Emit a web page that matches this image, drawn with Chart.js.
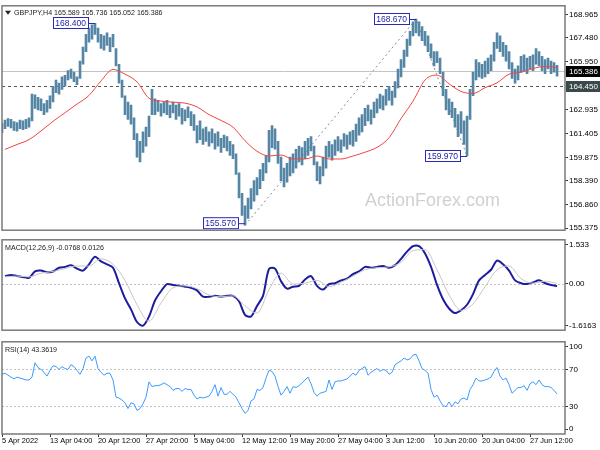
<!DOCTYPE html>
<html>
<head>
<meta charset="utf-8">
<script src="https://cdn.jsdelivr.net/npm/chart.js@4.4.0/dist/chart.umd.min.js"></script>
<style>
html, body { margin: 0; padding: 0; background: #fff; }
#painel { position: relative; width: 600px; height: 450px; overflow: hidden; background: #fff; }
canvas { position: absolute; left: 0; }
</style>
</head>
<body>
<div id="painel">
    <canvas id="graficoPreco" width="600" height="236" style="top:0px;width:600px;height:236px"></canvas>
    <canvas id="graficoMacd" width="600" height="102" style="top:234px;width:600px;height:102px"></canvas>
    <canvas id="graficoRsi" width="600" height="114" style="top:336px;width:600px;height:114px"></canvas>
</div>
<script>
"use strict";

/********************************************************************
 * Dados (GBPJPY H4) - um ponto de preço a cada 2 barras H4
 ********************************************************************/
const tituloPreco = "GBPJPY,H4 165.589 165.736 165.052 165.386";
const tituloMacd = "MACD(12,26,9) -0.0768 0.0126";
const tituloRsi = "RSI(14) 43.3619";

const barrasX = [0, 32, 64, 96, 128, 160, 192, 224, 256, 288, 320, 352];
const rotulosX = ["5 Apr 2022", "13 Apr 04:00", "20 Apr 12:00", "27 Apr 20:00", "5 May 04:00",
    "12 May 12:00", "19 May 20:00", "27 May 04:00", "3 Jun 12:00", "10 Jun 20:00",
    "20 Jun 04:00", "27 Jun 12:00"];

const ticksPreco = [155.375, 156.860, 158.390, 159.875, 161.405, 162.935, 165.950, 167.480, 168.965];
const ultimoPreco = 165.386;
const nivelSuporte = 164.450;

const precoMin = [
    161.45, 161.70, 161.85, 161.75, 161.60, 161.55, 161.70, 161.65, 161.70, 161.80,
    162.20, 163.00, 162.90, 162.85, 162.60, 162.75, 163.00, 163.40, 164.00, 163.90,
    164.20, 164.40, 164.80, 164.90, 164.70, 164.50, 164.90, 165.80, 166.60, 167.20,
    167.40, 167.70, 167.20, 166.80, 166.70, 167.00, 166.60, 166.90, 165.70, 164.60,
    163.70, 162.60, 162.30, 162.00, 161.00, 159.90, 159.60, 160.20, 160.60, 161.20,
    162.60, 162.60, 162.80, 162.50, 162.70, 162.60, 162.40, 162.70, 162.30, 162.50,
    162.00, 162.20, 162.40, 161.90, 161.60, 160.80, 161.00, 160.70, 160.90, 160.60,
    160.80, 160.40, 160.60, 160.20, 160.50, 160.30, 160.00, 159.80, 158.80, 157.30,
    156.20, 155.57, 156.00, 156.60, 157.10, 157.50, 157.90, 158.40, 158.90, 159.60,
    160.50, 160.40, 159.50, 158.40, 158.00, 158.30, 158.70, 158.90, 159.20, 159.60,
    159.40, 159.80, 160.00, 160.30, 159.40, 158.40, 158.20, 158.70, 159.20, 159.90,
    159.70, 160.00, 160.30, 160.20, 160.60, 160.40, 160.70, 160.60, 160.90, 161.30,
    161.50, 161.90, 162.20, 162.00, 162.40, 162.70, 163.00, 162.90, 163.20, 163.50,
    163.20, 163.70, 164.30, 165.00, 165.60, 166.30, 167.00, 167.60, 167.80, 167.60,
    167.30, 167.00, 166.60, 166.20, 165.70, 165.90, 165.20, 163.80, 162.90, 162.60,
    162.40, 161.80, 161.20, 161.40, 160.70, 159.97, 162.30, 163.80, 164.80, 165.00,
    164.90, 165.00, 165.20, 165.40, 166.00, 166.80, 166.60, 166.30, 166.00, 165.50,
    164.90, 164.60, 164.80, 165.30, 165.40, 165.20, 165.50, 165.40, 165.80, 165.70,
    165.40, 165.20, 165.50, 165.20, 165.30, 165.05
];

const precoMax = [
    162.05, 162.25, 162.35, 162.30, 162.15, 162.10, 162.25, 162.20, 162.30, 162.40,
    163.90, 163.85, 163.70, 163.60, 163.30, 163.50, 163.80, 164.40, 164.80, 164.60,
    165.00, 165.10, 165.40, 165.50, 165.30, 165.00, 166.00, 166.90, 167.70, 168.10,
    168.30, 168.40, 168.10, 167.70, 167.60, 167.80, 167.50, 167.70, 166.80, 165.80,
    164.80, 163.80, 163.40, 163.20, 162.40, 161.40, 160.90, 161.50, 161.80, 162.50,
    164.20, 163.60, 163.50, 163.30, 163.40, 163.50, 163.20, 163.40, 163.20, 163.30,
    163.00, 162.90, 163.10, 162.80, 162.60, 161.90, 162.20, 161.70, 161.80, 161.50,
    161.70, 161.40, 161.50, 161.10, 161.30, 161.20, 160.90, 160.70, 160.10, 158.90,
    157.60, 156.80, 157.30, 157.90, 158.40, 158.60, 159.10, 159.50, 160.00, 161.60,
    161.90, 161.70, 160.90, 159.90, 159.20, 159.50, 159.90, 160.10, 160.40, 160.60,
    160.50, 160.90, 161.10, 161.20, 160.60, 159.60, 159.30, 159.90, 160.60, 160.90,
    160.70, 161.00, 161.20, 161.00, 161.40, 161.30, 161.50, 161.60, 162.00, 162.40,
    162.60, 163.00, 163.20, 162.90, 163.40, 163.60, 163.90, 163.80, 164.20, 164.40,
    164.10, 164.70, 165.50, 166.10, 166.70, 167.40, 167.90, 168.50, 168.67, 168.50,
    168.20, 167.90, 167.60, 167.10, 166.60, 166.60, 166.20, 165.30, 164.20, 163.60,
    163.40, 163.00, 162.60, 162.80, 162.20, 162.50, 164.20, 165.30, 166.10, 165.90,
    165.80, 166.00, 166.20, 166.40, 167.20, 167.80, 167.60, 167.20, 167.00, 166.60,
    165.90, 165.50, 165.70, 166.30, 166.40, 166.20, 166.30, 166.40, 166.80, 166.60,
    166.30, 166.10, 166.20, 166.00, 165.90, 165.74
];

// média móvel: um ponto a cada 8 barras, a partir da barra 2
const mediaMovel = [
    160.39, 160.70, 161.01, 161.56, 162.17, 162.72, 163.27, 163.82, 164.74, 165.47,
    165.17, 164.68, 163.64, 163.46, 163.39, 163.33, 163.09, 162.60, 162.23, 161.80,
    160.94, 160.27, 159.97, 160.03, 159.78, 159.78, 159.97, 159.78, 159.78, 159.97,
    160.21, 160.52, 161.13, 162.35, 163.46, 164.80, 165.11, 164.56, 164.07, 163.94,
    164.31, 164.62, 165.17, 165.29, 165.53, 165.66, 165.60
];

// topos e fundos marcados
const pivoBarras = [62, 162, 276, 310];
const pivoValores = [168.400, 155.570, 168.670, 159.970];

// MACD: um ponto a cada 4 barras, a partir da barra 2
const macdLinha = [
    0.27, 0.31, 0.27, 0.24, 0.21, 0.43, 0.46, 0.40, 0.43, 0.56,
    0.59, 0.65, 0.53, 0.46, 0.68, 0.94, 0.78, 0.68, 0.56, 0.02,
    -0.51, -0.89, -1.33, -1.46, -1.14, -0.58, -0.26, -0.01, -0.04, -0.07,
    -0.10, -0.14, -0.23, -0.45, -0.45, -0.42, -0.45, -0.42, -0.42, -0.61,
    -1.08, -1.14, -0.77, -0.42, 0.52, 0.53, 0.09, -0.17, -0.10, -0.07,
    0.15, 0.27, -0.07, -0.20, -0.01, 0.02, 0.12, 0.18, 0.34, 0.43,
    0.59, 0.56, 0.59, 0.62, 0.56, 0.65, 0.87, 1.12, 1.31, 1.31,
    1.06, 0.59, -0.04, -0.54, -0.86, -1.02, -0.92, -0.73, -0.36, 0.12,
    0.31, 0.49, 0.81, 0.68, 0.46, 0.12, 0.02, -0.01, 0.05, 0.12,
    0.02, -0.04, -0.077
];

// sinal: um ponto a cada 8 barras, a partir da barra 2
const macdSinal = [
    0.24, 0.27, 0.24, 0.37, 0.43, 0.53, 0.62, 0.62, 0.87, 0.68,
    0.12, -0.73, -1.30, -0.67, -0.14, -0.07, -0.17, -0.39, -0.45, -0.42,
    -0.77, -1.02, -0.20, 0.37, -0.01, 0.02, 0.12, -0.10, 0.05, 0.27,
    0.49, 0.56, 0.59, 0.75, 1.16, 1.19, 0.49, -0.39, -0.92, -0.70,
    -0.10, 0.49, 0.62, 0.18, 0.02, 0.09, 0.0126
];
const macdMax = 1.533;
const macdMin = -1.6163;
const rotulosMacd = ["1.533", "0.00", "-1.6163"];

// RSI: um ponto a cada 2 barras
const rsiValores = [
    64.8, 65.9, 63.8, 61.7, 59.7, 61.7, 60.7, 59.7, 58.6, 58.6,
    61.7, 77.2, 72.1, 70.0, 66.9, 62.8, 69.0, 74.1, 73.1, 70.0,
    73.1, 71.0, 70.0, 75.2, 73.1, 69.0, 64.8, 71.0, 82.4, 84.5,
    79.3, 84.5, 71.0, 66.9, 63.8, 65.9, 65.9, 58.6, 40.0, 39.0,
    36.9, 33.8, 27.6, 33.8, 32.8, 25.5, 27.6, 32.8, 40.0, 56.6,
    51.4, 52.4, 52.4, 53.5, 55.5, 53.5, 51.4, 47.3, 49.3, 49.3,
    46.2, 49.3, 48.3, 48.3, 42.1, 38.0, 40.0, 39.0, 40.0, 41.0,
    46.2, 53.5, 41.0, 50.4, 43.1, 43.1, 46.2, 43.1, 40.0, 33.8,
    27.6, 22.4, 25.5, 35.9, 38.0, 48.3, 47.3, 50.4, 60.7, 69.0,
    67.9, 62.8, 51.4, 42.1, 46.2, 51.4, 44.2, 51.4, 50.4, 52.4,
    55.5, 58.6, 61.7, 54.5, 45.2, 41.0, 44.2, 45.2, 46.2, 58.6,
    48.3, 56.6, 57.6, 57.6, 58.6, 59.7, 62.8, 65.9, 63.8, 69.0,
    71.0, 73.1, 63.8, 66.9, 69.0, 71.0, 67.9, 70.0, 69.0, 64.8,
    66.9, 75.2, 77.2, 79.3, 82.4, 80.3, 81.4, 85.5, 86.5, 79.3,
    71.0, 69.0, 65.9, 48.3, 40.0, 42.1, 35.9, 30.7, 29.7, 34.8,
    29.7, 34.8, 32.8, 38.0, 39.0, 36.9, 48.3, 53.5, 60.7, 57.6,
    57.6, 58.6, 59.7, 61.7, 67.9, 72.1, 62.8, 58.6, 60.7, 53.5,
    44.2, 47.3, 50.4, 50.4, 52.4, 47.3, 54.5, 56.6, 53.5, 58.6,
    53.5, 51.4, 51.4, 50.4, 47.3, 43.4
];
const rsiNiveis = [30, 70];
const rotulosRsi = ["0", "30", "70", "100"];

/********************************************************************
 * Configuração comum
 ********************************************************************/
const FONTE = "'Liberation Sans', Arial, sans-serif";
const X_MAX = 375.3;

function eixoX(visivel) {

    const eixo = {
        type: "linear",
        min: 0,
        max: X_MAX,
        offset: false,
        display: visivel
    };

    if (visivel) {

        eixo.afterBuildTicks = s => { s.ticks = barrasX.map(v => ({ value: v })); };
        eixo.afterFit = s => { s.height = 16; };
        eixo.ticks = {
            autoSkip: false,
            maxRotation: 0,
            align: "start",
            padding: 0,
            color: "#000",
            font: { family: FONTE, size: 7.4 },
            callback: (v, i) => rotulosX[i]
        };
        eixo.grid = { drawOnChartArea: false, tickLength: 3, color: "#333" };
        eixo.border = { display: false };

    }

    return eixo;

}

function eixoY(min, max, ticks, rotulo) {

    return {
        position: "right",
        min: min,
        max: max,
        afterBuildTicks: s => { s.ticks = ticks.map(v => ({ value: v })); },
        afterFit: s => { s.width = 35; },
        ticks: {
            padding: 1,
            color: "#000",
            font: { family: FONTE, size: 8 },
            callback: rotulo
        },
        grid: { drawOnChartArea: false, tickLength: 3, color: "#333" },
        border: { display: false }
    };

}

function opcoesBase(padding, escalas) {

    return {
        responsive: false,
        animation: false,
        events: [],
        layout: { padding: padding },
        plugins: { legend: { display: false }, tooltip: { enabled: false } },
        scales: escalas
    };

}

/********************************************************************
 * Plugin de painel: moldura, título, linhas horizontais
 ********************************************************************/
function pluginPainel(cfg) {

    return {

        id: "painel",

        beforeDatasetsDraw(chart) {

            const { ctx, chartArea: a, scales } = chart;

            ctx.save();

            if (cfg.marca) {
                ctx.font = "18px " + FONTE;
                ctx.fillStyle = "#d0d0d0";
                ctx.textBaseline = "alphabetic";
                ctx.fillText("ActionForex.com", a.right - 200, a.bottom - 24);
            }

            (cfg.linhas || []).forEach(l => {
                const y = Math.round(scales.y.getPixelForValue(l.valor)) + 0.5;
                ctx.strokeStyle = l.cor;
                ctx.lineWidth = 1;
                ctx.setLineDash(l.tracejado || []);
                ctx.beginPath();
                ctx.moveTo(a.left, y);
                ctx.lineTo(a.right, y);
                ctx.stroke();
            });

            ctx.restore();

        },

        afterDatasetsDraw(chart) {

            if (!cfg.pivos) return;

            const { ctx, scales } = chart;

            ctx.save();
            ctx.font = "8.5px " + FONTE;
            ctx.textBaseline = "middle";

            pivoBarras.forEach((b, i) => {
                const px = scales.x.getPixelForValue(b);
                let py = Math.round(scales.y.getPixelForValue(pivoValores[i]));
                py = Math.min(py, chart.chartArea.bottom - 7);
                const texto = pivoValores[i].toFixed(3);
                const w = ctx.measureText(texto).width + 4;
                const direita = px - 7;
                ctx.fillStyle = "#fff";
                ctx.fillRect(direita - w, py - 5.5, w, 11);
                ctx.strokeStyle = "#2a2ab4";
                ctx.lineWidth = 1;
                ctx.strokeRect(Math.round(direita - w) + 0.5, py - 5.5, Math.round(w), 11);
                ctx.beginPath();
                ctx.moveTo(direita, py + 0.5);
                ctx.lineTo(px, py + 0.5);
                ctx.stroke();
                ctx.fillStyle = "#1e1ea0";
                ctx.fillText(texto, direita - w + 2, py + 0.5);
            });

            ctx.restore();

        },

        afterDraw(chart) {

            const { ctx, chartArea: a, scales } = chart;

            ctx.save();

            ctx.strokeStyle = "#7a7a7a";
            ctx.lineWidth = 1.5;
            ctx.strokeRect(a.left, a.top, a.right - a.left, a.bottom - a.top);

            ctx.font = "7.1px " + FONTE;
            ctx.textBaseline = "middle";
            ctx.fillStyle = "#222";

            if (cfg.seta) {
                ctx.beginPath();
                ctx.moveTo(a.left + 3, a.top + 5);
                ctx.lineTo(a.left + 9, a.top + 5);
                ctx.lineTo(a.left + 6, a.top + 9);
                ctx.closePath();
                ctx.fill();
                ctx.fillText(cfg.titulo, a.left + 12, a.top + 7.5);
            } else {
                ctx.fillText(cfg.titulo, a.left + 3, a.top + 8);
            }

            ctx.font = "8px " + FONTE;

            (cfg.caixas || []).forEach(c => {
                const y = Math.round(scales.y.getPixelForValue(c.valor));
                ctx.fillStyle = c.fundo;
                ctx.fillRect(a.right + 1, y - 5, 35, 11);
                ctx.fillStyle = "#fff";
                ctx.fillText(c.valor.toFixed(3), a.right + 4, y + 0.5);
            });

            ctx.restore();

        }

    };

}

/********************************************************************
 * Gráfico de preço
 ********************************************************************/
function criarGraficoPreco() {

    const canvas = document.getElementById("graficoPreco");

    return new Chart(canvas, {

        type: "bar",

        data: {

            datasets: [

                {
                    type: "line",
                    data: pivoBarras.slice(1).map((b, i) => ({ x: b, y: pivoValores[i + 1] })),
                    borderColor: "#8a8a8a",
                    borderWidth: 1,
                    borderDash: [2, 3],
                    pointRadius: 0,
                    order: 3
                },

                {
                    type: "bar",
                    data: precoMin.map((v, i) => ({ x: i * 2, y: [v, precoMax[i]] })),
                    backgroundColor: "#5686a5",
                    barThickness: 2,
                    order: 2
                },

                {
                    type: "line",
                    data: mediaMovel.map((v, i) => ({ x: 2 + i * 8, y: v })),
                    borderColor: "#f04646",
                    borderWidth: 1,
                    pointRadius: 0,
                    cubicInterpolationMode: "monotone",
                    order: 1
                }

            ]

        },

        options: opcoesBase({ left: 2, top: 1, right: 0, bottom: 2 }, {
            x: eixoX(false),
            y: eixoY(155.253, 169.516, ticksPreco, v => v.toFixed(3))
        }),

        plugins: [pluginPainel({
            titulo: tituloPreco,
            seta: true,
            marca: true,
            pivos: true,
            linhas: [
                { valor: ultimoPreco, cor: "#c4c4c4" },
                { valor: nivelSuporte, cor: "#555", tracejado: [3, 3] }
            ],
            caixas: [
                { valor: ultimoPreco, fundo: "#000" },
                { valor: nivelSuporte, fundo: "#3a4a4a" }
            ]
        })]

    });

}

/********************************************************************
 * Gráfico MACD
 ********************************************************************/
function criarGraficoMacd() {

    const canvas = document.getElementById("graficoMacd");

    return new Chart(canvas, {

        type: "line",

        data: {

            datasets: [

                {
                    data: macdSinal.map((v, i) => ({ x: 2 + i * 8, y: v })),
                    borderColor: "#c6c6c6",
                    borderWidth: 1,
                    pointRadius: 0,
                    cubicInterpolationMode: "monotone"
                },

                {
                    data: macdLinha.map((v, i) => ({ x: 2 + i * 4, y: v })),
                    borderColor: "#1c1c9e",
                    borderWidth: 2,
                    pointRadius: 0,
                    tension: 0.3
                }

            ]

        },

        options: opcoesBase({ left: 2, top: 1, right: 0, bottom: 1 }, {
            x: eixoX(false),
            y: eixoY(macdMin, macdMax, [macdMax - 0.17, 0, macdMin + 0.15], (v, i) => rotulosMacd[i])
        }),

        plugins: [pluginPainel({
            titulo: tituloMacd,
            linhas: [{ valor: 0, cor: "#c0c0c0", tracejado: [2, 2] }]
        })]

    });

}

/********************************************************************
 * Gráfico RSI
 ********************************************************************/
function criarGraficoRsi() {

    const canvas = document.getElementById("graficoRsi");

    return new Chart(canvas, {

        type: "line",

        data: {

            datasets: [{
                data: rsiValores.map((v, i) => ({ x: i * 2, y: v })),
                borderColor: "#3d9bff",
                borderWidth: 1,
                pointRadius: 0,
                tension: 0
            }]

        },

        options: opcoesBase({ left: 2, top: 1, right: 0, bottom: 0 }, {
            x: eixoX(true),
            y: eixoY(0, 100, [5.2, 30, 70, 94.8], (v, i) => rotulosRsi[i])
        }),

        plugins: [pluginPainel({
            titulo: tituloRsi,
            linhas: rsiNiveis.map(n => ({ valor: n, cor: "#c4c4c4", tracejado: [2, 2] }))
        })]

    });

}

criarGraficoPreco();
criarGraficoMacd();
criarGraficoRsi();
</script>
</body>
</html>
